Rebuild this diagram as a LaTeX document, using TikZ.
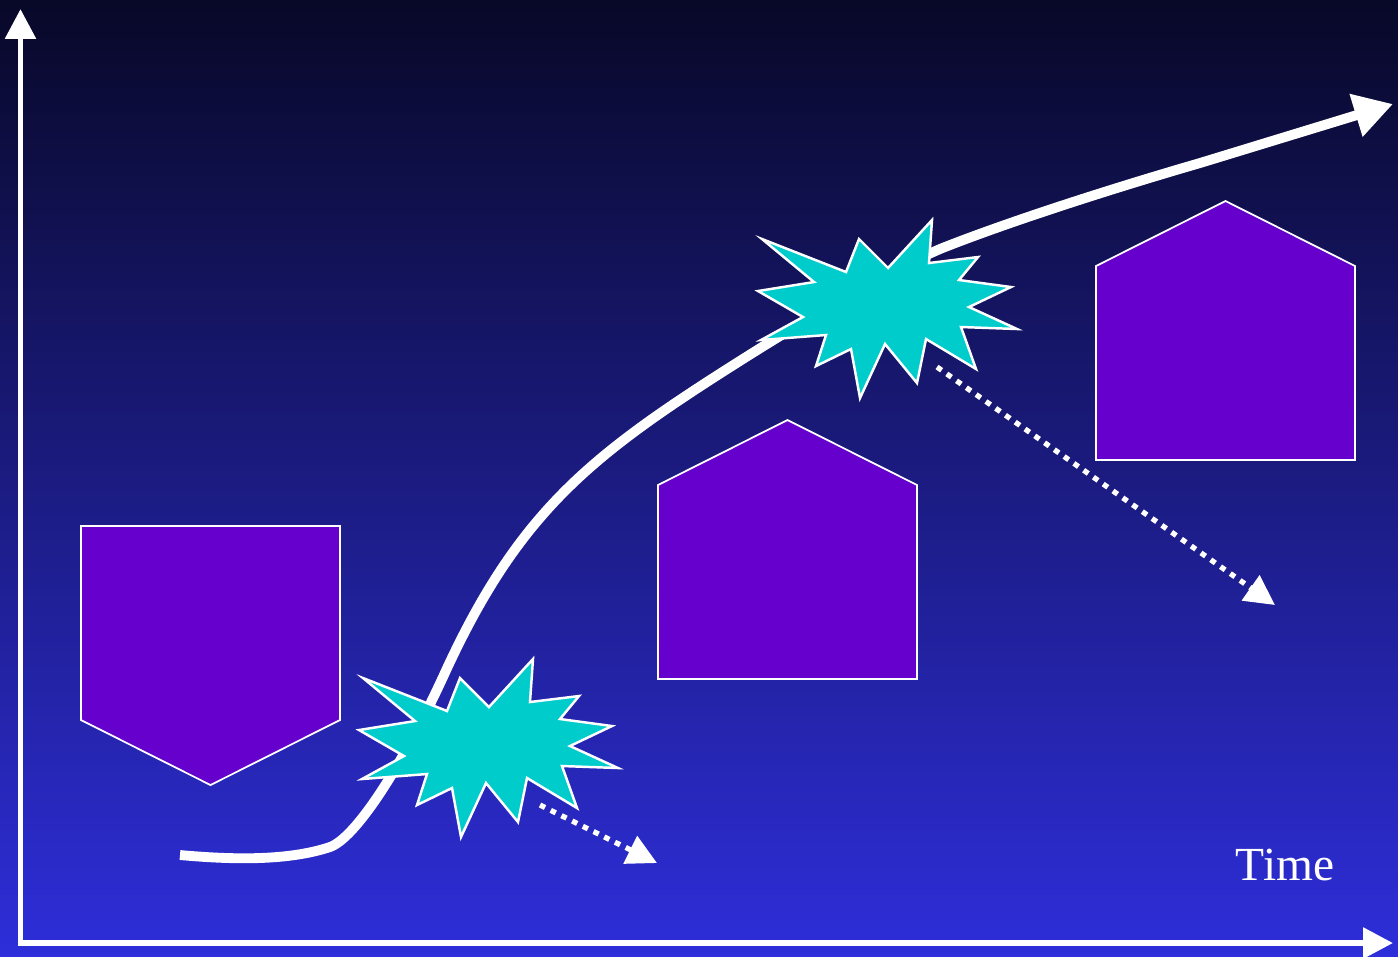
\documentclass[tikz,border=0pt]{standalone}
\usepackage{fontspec}
\setmainfont{Liberation Serif}
\usepackage{tikz}
\usetikzlibrary{arrows.meta}
\definecolor{skytop}{RGB}{8,8,40}
\definecolor{skybottom}{RGB}{46,46,218}
\definecolor{stagefill}{RGB}{102,0,204}
\definecolor{burstfill}{RGB}{0,204,204}
\tikzset{
  axis/.style={draw=white, line width=1.7pt,
    {Triangle[length=8.5pt,width=8.5pt]}-{Triangle[length=8.5pt,width=8.5pt]}},
  growth/.style={draw=white, line width=2.8pt, -{Triangle[length=11pt,width=12pt]}},
  dropout/.style={draw=white, line width=1.5pt, dash pattern=on 1.6pt off 1.8pt,
    -{Triangle[length=8.5pt,width=8.5pt]}},
  stage/.style={draw=white, line width=0.5pt, fill=stagefill},
  spark/.style={draw=white, line width=0.7pt, fill=burstfill, line join=miter},
  timetext/.style={text=white, font=\fontsize{13.5}{16}\selectfont, anchor=base, inner sep=0pt},
  stagebox/.pic={
    \path[stage] (-129.5,0) -- (129.5,0) -- (129.5,-194) -- (0,-259) -- (-129.5,-194) -- cycle;
  },
  burst/.pic={
    \path[spark] (-125,-70) -- (-73,-27) -- (-129,-18) -- (-84,8) -- (-126,31) -- (-61,26)
      -- (-71,57) -- (-36,40) -- (-27,89) -- (-2,35) -- (30,74) -- (39,30) -- (89,60)
      -- (74,18) -- (130,20) -- (82,-2) -- (124,-22) -- (72,-29) -- (91,-52) -- (42,-46)
      -- (45,-89) -- (1,-41) -- (-28,-70) -- (-41,-37) -- cycle;
  },
}

\begin{document}
\begin{tikzpicture}[x=0.01cm, y=-0.01cm]
  \useasboundingbox (0,0) rectangle (1398,956);
  \shade[top color=skytop, bottom color=skybottom] (0,0) rectangle (1398,956);

  % axes
  \coordinate (ytop) at (20.5,9);
  \coordinate (origin) at (20.5,943);
  \coordinate (xend) at (1393,943);
  \draw[axis] (ytop) -- (origin) -- (xend);

  % stages
  \pic[rotate=180] at (210.5,526) {stagebox};
  \pic at (787.5,679) {stagebox};
  \pic at (1225.5,460) {stagebox};

  % growth curve
  \coordinate (start) at (180,855);
  \coordinate (finish) at (1393,104);
  \draw[growth] (start) .. controls (225,859) and (285,862) .. (330,847)
    .. controls (355,838) and (400,770) .. (443,677)
    .. controls (513,523) and (580,464) .. (710,380)
    .. controls (800,322) and (880,275) .. (940,249)
    .. controls (1000,225) and (1100,192) .. (1200,163) -- (finish);

  % crises
  \pic at (488,748) {burst};
  \pic at (887,309) {burst};

  \coordinate (dropA) at (540,805);
  \coordinate (dropAend) at (657,863);
  \coordinate (dropB) at (937,367);
  \coordinate (dropBend) at (1275,605);
  \draw[dropout] (dropA) -- (dropAend);
  \draw[dropout] (dropB) -- (dropBend);

  \node[timetext] (timelabel) at (1285,880) {Time};
\end{tikzpicture}
\end{document}
